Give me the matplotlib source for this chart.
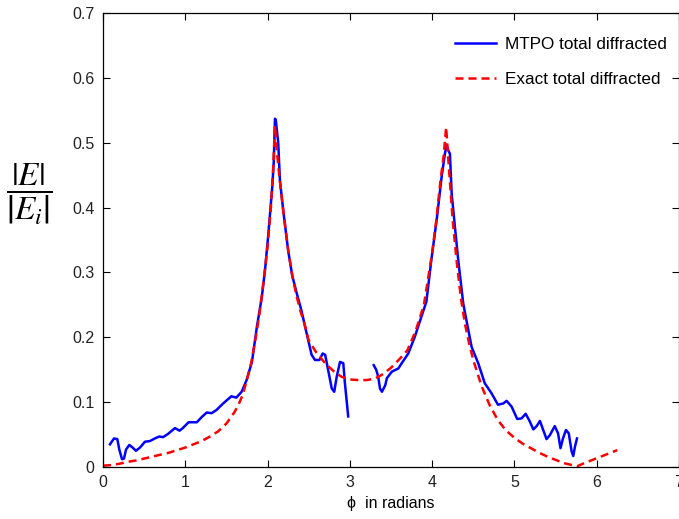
import numpy as np
import matplotlib
matplotlib.use("Agg")
import matplotlib.pyplot as plt

plt.rcParams['font.family'] = ['Liberation Sans', 'DejaVu Sans']
plt.rcParams['mathtext.fontset'] = 'stix'

# MTPO total diffracted (two pieces, gap near phi = pi)
mtpo_x1 = [0.085, 0.134, 0.174, 0.198, 0.231, 0.255, 0.28, 0.32, 0.36, 0.40, 0.45, 0.51,
           0.57, 0.63, 0.685, 0.73, 0.79, 0.875, 0.93, 0.97, 1.04, 1.10, 1.14, 1.20, 1.26,
           1.32, 1.38, 1.46, 1.56, 1.62, 1.685, 1.745, 1.81, 1.87, 1.93, 1.97, 2.01, 2.057,
           2.075, 2.09, 2.10, 2.13, 2.15, 2.19, 2.25, 2.30, 2.35, 2.41, 2.475, 2.535, 2.576,
           2.63, 2.67, 2.70, 2.74, 2.78, 2.81, 2.84, 2.88, 2.92, 2.94, 2.98]
mtpo_y1 = [0.035, 0.044, 0.043, 0.027, 0.012, 0.013, 0.027, 0.034, 0.030, 0.025, 0.030, 0.039,
           0.040, 0.044, 0.047, 0.046, 0.051, 0.060, 0.056, 0.060, 0.069, 0.069, 0.069, 0.077, 0.084,
           0.083, 0.088, 0.098, 0.109, 0.107, 0.116, 0.134, 0.162, 0.216, 0.262, 0.305, 0.360, 0.432,
           0.470, 0.537, 0.535, 0.499, 0.442, 0.396, 0.334, 0.295, 0.270, 0.242, 0.206, 0.173, 0.165,
           0.165, 0.175, 0.173, 0.147, 0.121, 0.116, 0.139, 0.162, 0.160, 0.129, 0.078]

mtpo_x2 = [3.29, 3.32, 3.345, 3.366, 3.39, 3.43, 3.45, 3.51, 3.59, 3.63, 3.71, 3.79, 3.87, 3.93,
           3.99, 4.055, 4.115, 4.155, 4.176, 4.19, 4.216, 4.237, 4.277, 4.317, 4.378, 4.42, 4.48,
           4.56, 4.64, 4.72, 4.80, 4.865, 4.905, 4.966, 5.034, 5.087, 5.136, 5.18, 5.23, 5.27,
           5.31, 5.35, 5.39, 5.43, 5.49, 5.53, 5.56, 5.59, 5.626, 5.66, 5.695, 5.715, 5.735, 5.76]
mtpo_y2 = [0.157, 0.150, 0.139, 0.121, 0.116, 0.126, 0.137, 0.147, 0.152, 0.160, 0.175, 0.201, 0.232, 0.255,
           0.319, 0.381, 0.447, 0.483, 0.497, 0.490, 0.483, 0.422, 0.370, 0.319, 0.252, 0.224, 0.185,
           0.160, 0.129, 0.114, 0.096, 0.098, 0.102, 0.093, 0.074, 0.075, 0.082, 0.072, 0.058, 0.063,
           0.071, 0.057, 0.043, 0.049, 0.063, 0.052, 0.029, 0.044, 0.057, 0.052, 0.024, 0.017, 0.031, 0.044]

# Exact total diffracted
exact_x = [0.0, 0.1, 0.2, 0.3, 0.4, 0.5, 0.6, 0.7, 0.8, 0.9, 1.0, 1.1, 1.2, 1.3, 1.4, 1.5, 1.6,
           1.65, 1.7, 1.75, 1.8, 1.85, 1.9, 1.95, 2.0, 2.04, 2.07, 2.09, 2.11, 2.15, 2.2, 2.25, 2.3,
           2.35, 2.4, 2.45, 2.5, 2.6, 2.7, 2.8, 2.9, 3.0, 3.1, 3.2, 3.3, 3.4, 3.5, 3.6, 3.7, 3.8,
           3.85, 3.9, 3.95, 4.0, 4.05, 4.1, 4.14, 4.17, 4.2, 4.25, 4.3, 4.35, 4.4, 4.45, 4.5, 4.6,
           4.7, 4.8, 4.9, 5.0, 5.1, 5.2, 5.3, 5.4, 5.5, 5.6, 5.7, 5.76, 5.85, 5.95, 6.05, 6.15, 6.25]
exact_y = [0.002, 0.003, 0.005, 0.008, 0.010, 0.013, 0.016, 0.019, 0.022, 0.026, 0.030, 0.035, 0.040,
           0.047, 0.055, 0.067, 0.085, 0.097, 0.112, 0.135, 0.160, 0.195, 0.235, 0.285, 0.340, 0.400,
           0.465, 0.527, 0.490, 0.440, 0.385, 0.335, 0.295, 0.265, 0.240, 0.220, 0.195, 0.175, 0.160,
           0.148, 0.139, 0.135, 0.134, 0.134, 0.136, 0.143, 0.153, 0.166, 0.180, 0.210, 0.230, 0.250,
           0.290, 0.330, 0.380, 0.440, 0.480, 0.524, 0.468, 0.380, 0.315, 0.260, 0.220, 0.190, 0.165,
           0.125, 0.095, 0.072, 0.056, 0.045, 0.036, 0.029, 0.022, 0.016, 0.011, 0.006, 0.003, 0.001,
           0.006, 0.011, 0.016, 0.021, 0.026]

fig = plt.figure(figsize=(6.79, 5.19), dpi=100)
ax = fig.add_axes([103 / 679, 52 / 519, 576 / 679, 454 / 519])

ax.plot(mtpo_x1, mtpo_y1, color='blue', lw=1.8, label='MTPO total diffracted')
ax.plot(mtpo_x2, mtpo_y2, color='blue', lw=1.8)
ax.plot(exact_x, exact_y, color='red', lw=1.8, ls=(0, (3.2, 2.0)), label='Exact total diffracted')

ax.set_xlim(0, 7)
ax.set_ylim(0, 0.7)
ax.set_xticks(range(0, 8))
ax.set_yticks(np.arange(0, 0.71, 0.1))
ax.set_yticklabels(['0', '0.1', '0.2', '0.3', '0.4', '0.5', '0.6', '0.7'])
ax.tick_params(direction='in', top=True, right=True, length=5, width=0.8,
               labelsize=11.5, pad=6, colors='black', labelcolor='#222222')
for s in ax.spines.values():
    s.set_linewidth(0.9)

ax.set_xlabel('\u03d5  in radians', fontsize=11.5, labelpad=4)
fig.text(29 / 679, 1 - 194 / 519, r'$\dfrac{\left|E\right|}{\left|E_i\right|}$',
         fontsize=24, ha='center', va='center')

ax.legend(loc='upper left', bbox_to_anchor=(455 / 679, 1 - 37 / 519),
          bbox_transform=fig.transFigure, frameon=False, fontsize=12.3,
          handlelength=2.4, handletextpad=0.5, labelspacing=1.15, borderaxespad=0, borderpad=0)

fig.savefig('out.png', dpi=100)
